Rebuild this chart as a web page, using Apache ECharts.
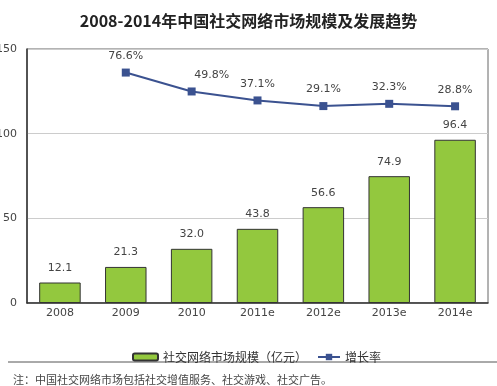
<!DOCTYPE html>
<html><head><meta charset="utf-8">
<script src="https://cdn.jsdelivr.net/npm/echarts@6/dist/echarts.min.js"></script>
<style>html,body{margin:0;padding:0;background:#fff}#c{width:497px;height:386px}</style>
</head><body><div id="c"></div>
<script>
var categories = ['2008','2009','2010','2011e','2012e','2013e','2014e'];
var marketSize = [12.1, 21.3, 32.0, 43.8, 56.6, 74.9, 96.4];
var growthRate = [null, 76.6, 49.8, 37.1, 29.1, 32.3, 28.8];
var yTicks = [0, 50, 100, 150];
var barName = '社交网络市场规模（亿元）';
var lineName = '增长率';

var FONT = '"DejaVu Sans","Noto Sans CJK SC",sans-serif';
var chart = echarts.init(document.getElementById('c'));
var lineData = growthRate.map(function(v, i){
  if (i === 2) return {value: v, label: {offset: [20, 0]}};
  return v;
});
chart.setOption({
  backgroundColor: '#fff',
  animation: false,
  title: [{
    text: '2008-2014年中国社交网络市场规模及发展趋势',
    left: 'center', top: 8,
    textStyle: {fontSize: 16, fontWeight: 'bold', color: '#222', fontFamily: '"Noto Sans CJK SC",sans-serif'}
  },{
    text: '注：中国社交网络市场包括社交增值服务、社交游戏、社交广告。',
    left: 8, top: 369,
    textStyle: {fontSize: 11, fontWeight: 'normal', color: '#444', fontFamily: '"Noto Sans CJK SC",sans-serif'}
  }],
  graphic: [{
    type: 'line', shape: {x1: 8, y1: 362, x2: 497, y2: 362},
    style: {stroke: '#555', lineWidth: 1}
  }],
  legend: [{
    data: [barName], left: 127, top: 346, itemWidth: 25, itemHeight: 7, itemGap: 4,
    textStyle: {fontSize: 12, color: '#333', fontFamily: '"Noto Sans CJK SC",sans-serif'}
  },{
    data: [lineName], left: 312, top: 346, itemWidth: 22, itemHeight: 8,
    textStyle: {fontSize: 12, color: '#333', fontFamily: '"Noto Sans CJK SC",sans-serif'}
  }],
  grid: {left: 27, right: 9, top: 49, bottom: 83, containLabel: false, outerBoundsMode: 'none',
    show: true, borderColor: '#666', borderWidth: 1},
  xAxis: {
    type: 'category', data: categories,
    axisLine: {lineStyle: {color: '#333', width: 1.5}},
    axisTick: {show: false},
    axisLabel: {fontSize: 11, color: '#444', margin: 5, fontFamily: FONT}
  },
  yAxis: [{
    type: 'value', min: yTicks[0], max: yTicks[yTicks.length-1], interval: 50,
    axisLine: {show: true, lineStyle: {color: '#333', width: 1.5}},
    axisTick: {show: false},
    splitLine: {lineStyle: {color: '#ccc'}},
    axisLabel: {fontSize: 11, color: '#444', margin: 10, fontFamily: FONT}
  },{
    type: 'value', min: -250, max: 110, show: false, splitLine: {show: false}
  }],
  series: [{
    name: barName, type: 'bar', data: marketSize, barWidth: '63%',
    itemStyle: {color: '#93c83e', borderColor: '#333', borderWidth: 1},
    label: {show: true, position: 'top', distance: 9, fontSize: 11, color: '#444',
      fontFamily: FONT, formatter: function(p){return p.value.toFixed(1);}}
  },{
    name: lineName, type: 'line', yAxisIndex: 1, data: lineData,
    symbol: 'rect', symbolSize: 8,
    lineStyle: {color: '#3b5290', width: 2},
    itemStyle: {color: '#3b5290'},
    label: {show: true, position: 'top', distance: 7, fontSize: 11, color: '#444',
      fontFamily: FONT, formatter: function(p){return p.value.toFixed(1) + '%';}}
  }]
});
</script></body></html>
